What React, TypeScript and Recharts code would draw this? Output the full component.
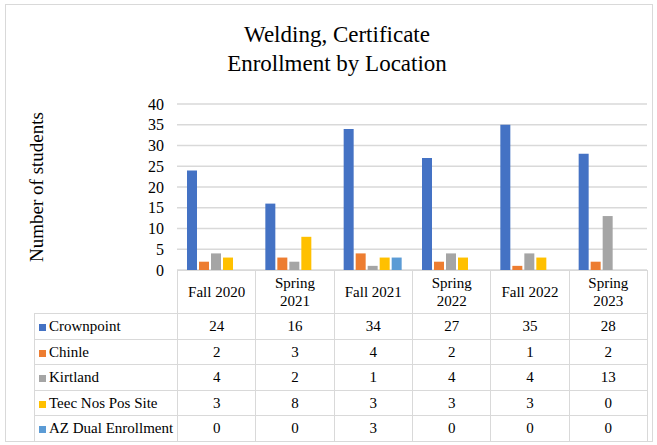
import { Bar, BarChart, CartesianGrid, XAxis, YAxis } from "recharts";

const CATEGORIES = [
  "Fall 2020",
  "Spring 2021",
  "Fall 2021",
  "Spring 2022",
  "Fall 2022",
  "Spring 2023",
];
const CROWNPOINT = [24, 16, 34, 27, 35, 28];
const CHINLE = [2, 3, 4, 2, 1, 2];
const KIRTLAND = [4, 2, 1, 4, 4, 13];
const TEEC_NOS_POS = [3, 8, 3, 3, 3, 0];
const AZ_DUAL = [0, 0, 3, 0, 0, 0];
const Y_TICKS = [0, 5, 10, 15, 20, 25, 30, 35, 40];

const SERIES = [
  { key: "crownpoint", name: "Crownpoint", color: "#4472C4", values: CROWNPOINT },
  { key: "chinle", name: "Chinle", color: "#ED7D31", values: CHINLE },
  { key: "kirtland", name: "Kirtland", color: "#A5A5A5", values: KIRTLAND },
  { key: "teec", name: "Teec Nos Pos Site", color: "#FFC000", values: TEEC_NOS_POS },
  { key: "azDual", name: "AZ Dual Enrollment", color: "#5B9BD5", values: AZ_DUAL },
];

const FONT = '"Liberation Serif", "Times New Roman", serif';
const GRID = "#d9d9d9";

const data = CATEGORIES.map((label, i) => {
  const row: Record<string, string | number> = { label };
  SERIES.forEach((s) => {
    row[s.key] = s.values[i];
  });
  return row;
});

function HeaderLabel({ label }: { label: string }) {
  const [season, year] = label.split(" ");
  if (season === "Spring") {
    return (
      <>
        {season}
        <br />
        {year}
      </>
    );
  }
  return <>{label}</>;
}

const cell = {
  border: `1px solid ${GRID}`,
  textAlign: "center" as const,
  padding: 0,
  fontSize: 15,
  lineHeight: "18px",
  color: "#000",
  fontFamily: FONT,
};

export default function App() {
  return (
    <div
      style={{
        position: "absolute",
        left: 0,
        top: 0,
        width: 657,
        height: 445,
        background: "#fff",
        fontFamily: FONT,
      }}
    >
      <div
        style={{
          position: "absolute",
          left: 5,
          top: 4,
          width: 646,
          height: 436,
          border: `1px solid ${GRID}`,
        }}
      />
      <div
        style={{
          position: "absolute",
          left: 137,
          top: 20,
          width: 400,
          textAlign: "center",
          fontSize: 23,
          lineHeight: "29px",
          color: "#000",
        }}
      >
        Welding, Certificate
        <br />
        Enrollment by Location
      </div>
      <div
        style={{
          position: "absolute",
          left: 37,
          top: 187,
          transform: "translate(-50%, -50%) rotate(-90deg)",
          whiteSpace: "nowrap",
          fontSize: 19,
          color: "#000",
        }}
      >
        Number of students
      </div>
      <div style={{ position: "absolute", left: 0, top: 0 }}>
        <BarChart
          width={657}
          height={445}
          data={data}
          margin={{ top: 104, right: 10, bottom: 175, left: 117 }}
          barCategoryGap={10}
          barGap={2}
        >
          <CartesianGrid vertical={false} stroke={GRID} strokeWidth={1.5} />
          <XAxis dataKey="label" hide />
          <YAxis
            width={60}
            domain={[0, 40]}
            ticks={Y_TICKS}
            interval={0}
            axisLine={false}
            tickLine={false}
            tickSize={0}
            tickMargin={13}
            tick={{ fontSize: 16, fill: "#000", fontFamily: FONT }}
          />
          {SERIES.map((s) => (
            <Bar
              key={s.key}
              dataKey={s.key}
              name={s.name}
              fill={s.color}
              isAnimationActive={false}
            />
          ))}
        </BarChart>
      </div>
      <table
        style={{
          position: "absolute",
          left: 34,
          top: 270,
          width: 613,
          borderCollapse: "collapse",
          tableLayout: "fixed",
          fontFamily: FONT,
        }}
      >
        <colgroup>
          <col style={{ width: 143 }} />
          {CATEGORIES.map((c) => (
            <col key={c} style={{ width: 78.33 }} />
          ))}
        </colgroup>
        <tbody>
          <tr style={{ height: 43 }}>
            <td style={{ border: "none", padding: 0 }} />
            {CATEGORIES.map((c) => (
              <td key={c} style={cell}>
                <HeaderLabel label={c} />
              </td>
            ))}
          </tr>
          {SERIES.map((s) => (
            <tr key={s.key} style={{ height: 25.5 }}>
              <td style={{ ...cell, textAlign: "left", whiteSpace: "nowrap" }}>
                <span
                  style={{
                    display: "inline-block",
                    width: 7,
                    height: 7,
                    background: s.color,
                    marginLeft: 4,
                    marginRight: 3,
                  }}
                />
                {s.name}
              </td>
              {s.values.map((v, i) => (
                <td key={i} style={cell}>
                  {v}
                </td>
              ))}
            </tr>
          ))}
        </tbody>
      </table>
    </div>
  );
}
